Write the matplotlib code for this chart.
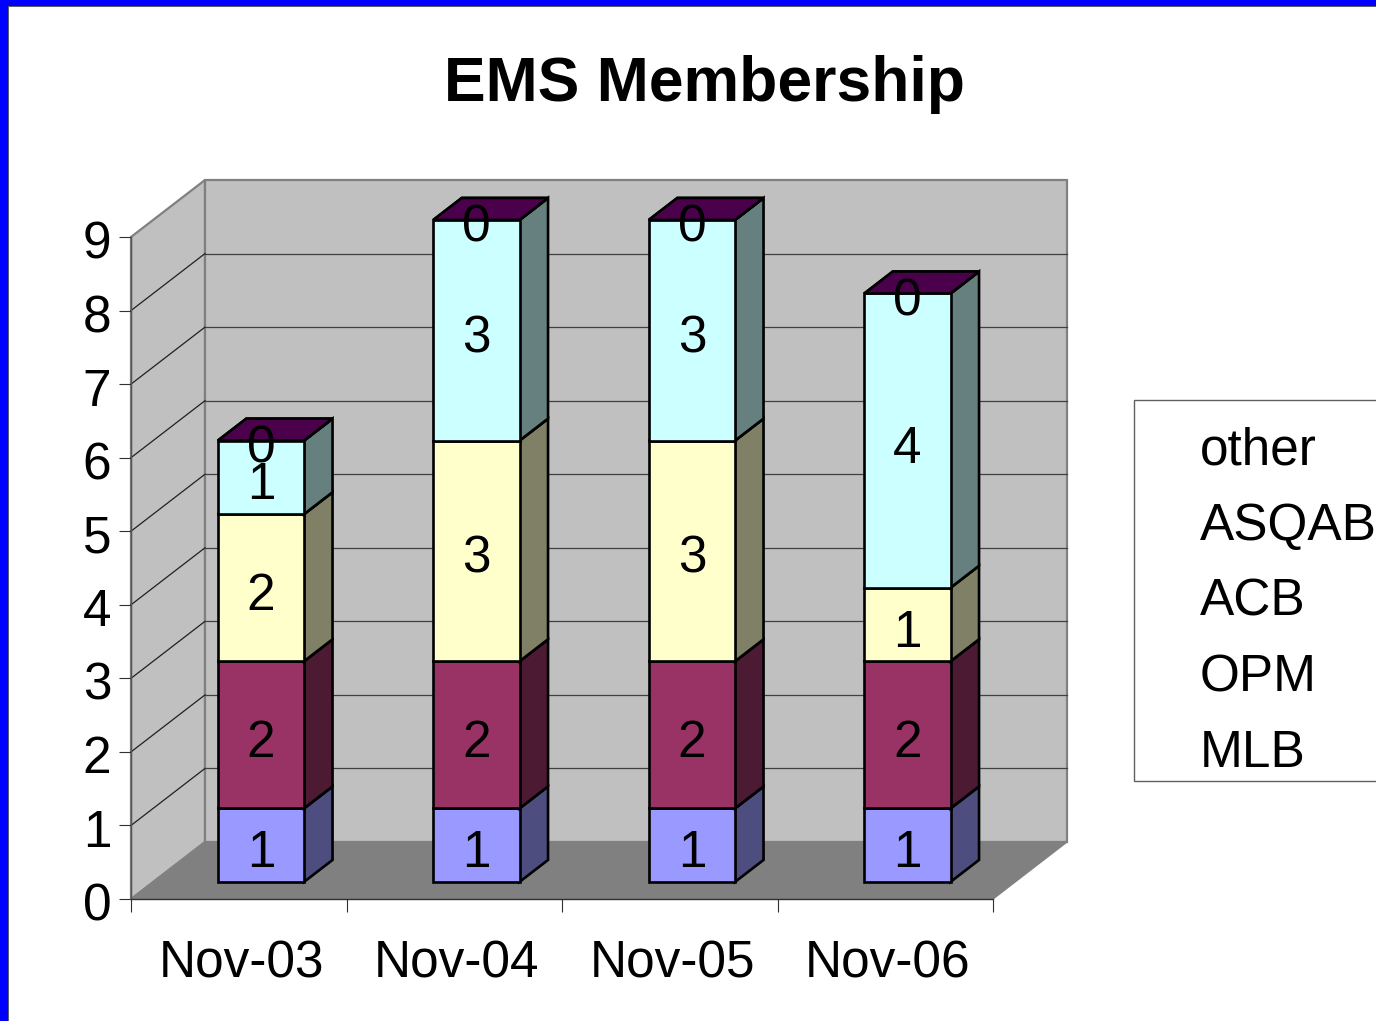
import matplotlib
matplotlib.use("Agg")
import matplotlib.pyplot as plt
from matplotlib.patches import Polygon, Rectangle
from matplotlib.transforms import ScaledTranslation

plt.rcParams['font.family'] = ['Liberation Sans', 'DejaVu Sans']

categories = ['Nov-03', 'Nov-04', 'Nov-05', 'Nov-06']
series_names = ['MLB', 'OPM', 'ACB', 'ASQAB', 'other']
MLB = [1, 1, 1, 1]
OPM = [2, 2, 2, 2]
ACB = [2, 3, 3, 1]
ASQAB = [1, 3, 3, 4]
other = [0, 0, 0, 0]
series_values = [MLB, OPM, ACB, ASQAB, other]
y_ticks = list(range(10))
legend_order = ['other', 'ASQAB', 'ACB', 'OPM', 'MLB']

front_colors = ['#9999FF', '#993366', '#FFFFCC', '#CCFFFF', '#660066']
side_colors = ['#4D4D80', '#4D1A33', '#808066', '#668080', '#330033']
top_colors = ['#4D4D80', '#4D1A33', '#808066', '#668080', '#4B004B']

W, H = 1376, 1021
fig = plt.figure(figsize=(W / 100, H / 100), dpi=100, facecolor='white')
ax = fig.add_axes([131 / W, 1 - 899 / H, (993 - 131) / W, (899 - 237) / H])
ax.set_xlim(0, len(categories))
ax.set_ylim(0, 9)
ax.patch.set_visible(False)

# oblique projection: depth 0..1 shifts points right and up, in data units
px_x = (993 - 131) / len(categories)
px_y = (899 - 237) / 9
DX = 74 / px_x
DY = 57 / px_y


def proj(x, y, d=0.0):
    return (x + d * DX, y + d * DY)


def poly(points, fc, ec, lw, z):
    ax.add_patch(Polygon(points, closed=True, facecolor=fc, edgecolor=ec,
                         linewidth=lw, zorder=z, clip_on=False, joinstyle='miter'))


def shift(label, dx_px, dy_px):
    label.set_transform(label.get_transform()
                        + ScaledTranslation(dx_px / 100, -dy_px / 100, fig.dpi_scale_trans))


n = len(categories)
poly([proj(0, 0, 0), proj(0, 0, 1), proj(0, 9, 1), proj(0, 9, 0)], '#C0C0C0', '#808080', 1.6, 1)
poly([proj(0, 0, 1), proj(n, 0, 1), proj(n, 9, 1), proj(0, 9, 1)], '#C0C0C0', '#808080', 1.6, 1)
poly([proj(0, 0, 0), proj(n, 0, 0), proj(n, 0, 1), proj(0, 0, 1)], '#808080', '#808080', 1.0, 2)

for v in y_ticks[1:-1]:
    ax.plot(*zip(proj(0, v, 0), proj(0, v, 1)), color='#202020', lw=0.9, zorder=2, clip_on=False)
    ax.plot(*zip(proj(0, v, 1), proj(n, v, 1)), color='#404040', lw=0.9, zorder=2, clip_on=False)

# stacked boxes
bar_w = 0.40
d0, d1 = 0.30, 0.685
EDGE = 1.9
z = 3
for i in range(n):
    xl = i + 0.5 - bar_w / 2
    xr = i + 0.5 + bar_w / 2
    base = 0
    for k, vals in enumerate(series_values):
        top = base + vals[i]
        poly([proj(xr, base, d0), proj(xr, base, d1), proj(xr, top, d1), proj(xr, top, d0)],
             side_colors[k], 'black', EDGE, z)
        poly([proj(xl, top, d0), proj(xr, top, d0), proj(xr, top, d1), proj(xl, top, d1)],
             top_colors[k], 'black', EDGE, z)
        if vals[i] > 0:
            poly([proj(xl, base, d0), proj(xr, base, d0), proj(xr, top, d0), proj(xl, top, d0)],
                 front_colors[k], 'black', EDGE, z)
        z += 1
        base = top

for i in range(n):
    base = 0
    for k, vals in enumerate(series_values):
        cx, cy = proj(i + 0.5, base + vals[i] / 2, d0)
        ax.annotate(str(vals[i]), (cx, cy), xytext=(0, -2.2), textcoords='offset points',
                    fontsize=37, ha='center', va='center_baseline',
                    color='black', zorder=50, annotation_clip=False)
        base += vals[i]

# real axes
for s in ('top', 'right'):
    ax.spines[s].set_visible(False)
for s, c in (('left', '#555555'), ('bottom', '#303030')):
    ax.spines[s].set_color(c)
    ax.spines[s].set_linewidth(1.0)
    ax.spines[s].set_zorder(2.5)
ax.set_yticks(y_ticks)
ax.set_yticklabels([str(v) for v in y_ticks], fontsize=37)
ax.tick_params(axis='y', length=9, width=0.8, color='#303030', pad=4)
ax.set_xticks(range(n + 1))
ax.set_xticklabels([])
ax.tick_params(axis='x', which='major', length=9, width=0.8, color='#303030')
ax.set_xticks([i + 0.5 for i in range(n)], minor=True)
ax.set_xticklabels(categories, minor=True, fontsize=37)
ax.tick_params(axis='x', which='minor', length=0, pad=29)
for lab in ax.get_yticklabels():
    shift(lab, -1.5, 2.5)
for lab in ax.get_xticklabels(minor=True):
    shift(lab, 2.5, 0)

# title
fig.text(705 / W, 1 - 78 / H, 'EMS Membership', fontsize=45, fontweight='bold',
         ha='center', va='center_baseline', color='black')

# legend box (runs off the right edge)
fig.add_artist(Rectangle((1134 / W, 1 - 781 / H), 300 / W, 381 / H, transform=fig.transFigure,
                         facecolor='white', edgecolor='#606060', linewidth=1.0))
for j, name in enumerate(legend_order):
    fig.text(1200 / W, 1 - (445 + j * 75.8) / H, name, fontsize=37, ha='left',
             va='center_baseline', color='black')

# blue frame
fig.add_artist(Rectangle((0, 0), 8 / W, 1, transform=fig.transFigure, facecolor='#0000FF', edgecolor='none'))
fig.add_artist(Rectangle((0, 1 - 6 / H), 1, 6 / H, transform=fig.transFigure, facecolor='#0000FF', edgecolor='none'))
fig.add_artist(Rectangle((8 / W, 0), 1.2 / W, 1 - 6 / H, transform=fig.transFigure, facecolor='#606060', edgecolor='none'))
fig.add_artist(Rectangle((8 / W, 1 - 7.2 / H), 1, 1.2 / H, transform=fig.transFigure, facecolor='#606060', edgecolor='none'))

fig.savefig('out.png', dpi=100, facecolor='white')
